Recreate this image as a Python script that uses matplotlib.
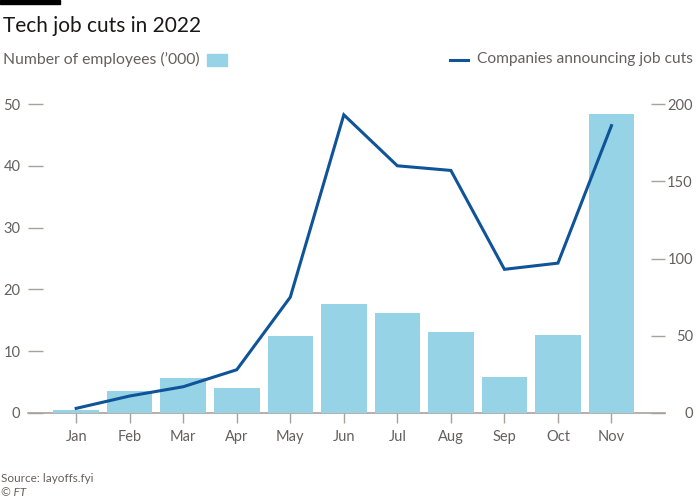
import numpy as np
import matplotlib
matplotlib.use('Agg')
import matplotlib.pyplot as plt
from matplotlib.patches import Rectangle
from matplotlib.lines import Line2D

months = ['Jan', 'Feb', 'Mar', 'Apr', 'May', 'Jun', 'Jul', 'Aug', 'Sep', 'Oct', 'Nov']
employees = [0.5, 3.5, 5.6, 4.0, 12.5, 17.6, 16.2, 13.1, 5.9, 12.6, 48.4]
companies = [3, 11, 17, 28, 75, 193, 160, 157, 93, 97, 186]

plt.rcParams['font.family'] = ['Lato', 'DejaVu Sans']
grey = '#66605c'
tickc = '#a8a29d'
barc = '#96d3e6'
linec = '#0f5499'

fig = plt.figure(figsize=(7, 5), dpi=100)
ax = fig.add_axes([0.04, 0.174, 0.91, 0.618])
x = np.arange(len(months))
ax.bar(x, employees, width=0.85, color=barc, zorder=2, clip_on=False)
ax.set_xlim(-0.9, 11.0)
ax.set_ylim(0, 50)
ax.set_yticks([0, 10, 20, 30, 40, 50])
ax.set_xticks(x)
ax.set_xticklabels(months)
for s in ax.spines.values():
    s.set_visible(False)
ax.axhline(0, color=tickc, lw=1.2, zorder=1, clip_on=False)
ax.tick_params(axis='y', direction='in', length=11, width=1, color=tickc,
               labelcolor=grey, labelsize=10.5, pad=5.5)
ax.tick_params(axis='x', direction='out', length=7, width=1, color=tickc,
               labelcolor=grey, labelsize=10.5, pad=5)

ax2 = ax.twinx()
ax2.plot(x, companies, color=linec, lw=2.2, zorder=3, solid_joinstyle='miter')
ax2.set_ylim(0, 200)
ax2.set_yticks([0, 50, 100, 150, 200])
for s in ax2.spines.values():
    s.set_visible(False)
ax2.tick_params(axis='y', direction='in', length=10, width=1, color=tickc,
                labelcolor=grey, labelsize=10.5, pad=20)
for lab in ax2.get_yticklabels():
    lab.set_horizontalalignment('right')

# header
fig.patches.append(Rectangle((0, 0.992), 60/700, 0.008, transform=fig.transFigure,
                             color='black'))
fig.text(0.004, 0.948, 'Tech job cuts in 2022', fontsize=15, va='center', color='#1a1817')
fig.text(0.004, 0.881, "Number of employees (\u2019000)", fontsize=11.3, va='center', color=grey)
fig.patches.append(Rectangle((207/700, 0.869), 20/700, 0.022, transform=fig.transFigure,
                             color=barc))
fig.lines.append(Line2D([450/700, 468/700], [0.881, 0.881], transform=fig.transFigure,
                        color=linec, lw=2.2))
fig.text(0.99, 0.881, 'Companies announcing job cuts', fontsize=11.2, va='center',
         ha='right', color=grey)

fig.text(0.002, 0.044, 'Source: layoffs.fyi', fontsize=8.5, va='center', color=grey)
fig.text(0.002, 0.014, '© FT', fontsize=8.5, va='center', color=grey, style='italic')

fig.savefig('out.png', dpi=100)
